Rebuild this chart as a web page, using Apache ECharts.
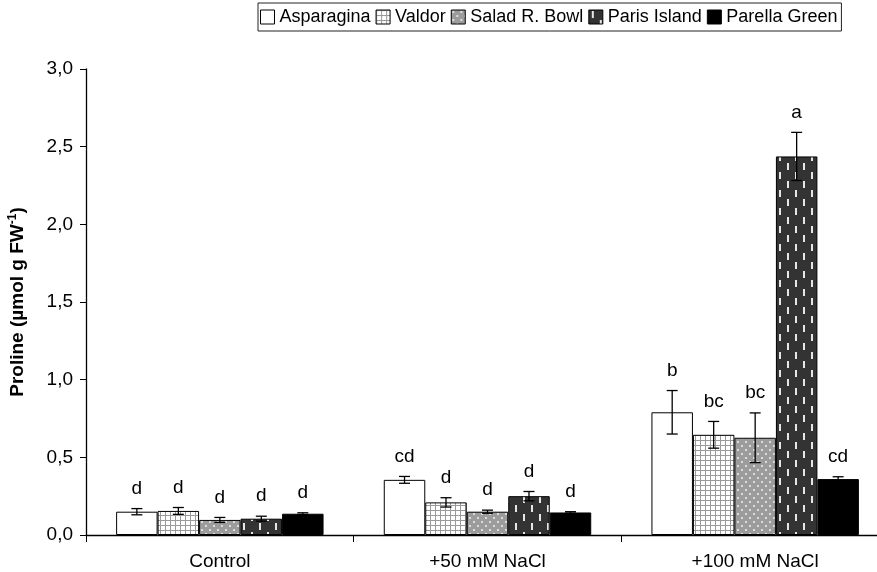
<!DOCTYPE html>
<html>
<head>
<meta charset="utf-8">
<script src="https://cdn.jsdelivr.net/npm/echarts@6/dist/echarts.min.js"></script>
<style>
  html, body { margin: 0; padding: 0; background: #fff; }
  #chart { width: 877px; height: 572px; }
</style>
</head>
<body>
<div id="chart"></div>
<script>
// Proline content of five lettuce cultivars under salt treatments
const categories = ['Control', '+50 mM NaCl', '+100 mM NaCl'];
const cultivars = ['Asparagina', 'Valdor', 'Salad R. Bowl', 'Paris Island', 'Parella Green'];
const yTicks = [0, 0.5, 1.0, 1.5, 2.0, 2.5, 3.0];

const asparagina = [0.150, 0.355, 0.790];
const valdor = [0.155, 0.210, 0.645];
const saladRBowl = [0.097, 0.150, 0.626];
const parisIsland = [0.105, 0.250, 2.437];
const parellaGreen = [0.137, 0.145, 0.360];

const asparaginaErr = [0.020, 0.022, 0.140];
const valdorErr = [0.022, 0.030, 0.086];
const saladRBowlErr = [0.016, 0.010, 0.160];
const parisIslandErr = [0.016, 0.030, 0.155];
const parellaGreenErr = [0.006, 0.005, 0.015];

const asparaginaLetters = ['d', 'cd', 'b'];
const valdorLetters = ['d', 'd', 'bc'];
const saladRBowlLetters = ['d', 'd', 'bc'];
const parisIslandLetters = ['d', 'd', 'a'];
const parellaGreenLetters = ['d', 'd', 'cd'];

const values = [asparagina, valdor, saladRBowl, parisIsland, parellaGreen];
const errors = [asparaginaErr, valdorErr, saladRBowlErr, parisIslandErr, parellaGreenErr];
const letters = [asparaginaLetters, valdorLetters, saladRBowlLetters, parisIslandLetters, parellaGreenLetters];

const FONT = '"Liberation Sans", Arial, sans-serif';
const CAT_GAP = 0.225;

// Fill patterns for the bars
function tile(w, h, draw) {
  const c = document.createElement('canvas');
  c.width = w; c.height = h;
  draw(c.getContext('2d'));
  return c;
}
const patterns = [
  '#ffffff',
  { image: tile(5, 5, g => {
      g.fillStyle = '#9a9a9a'; g.fillRect(0, 0, 5, 5);
      g.fillStyle = '#ffffff'; g.fillRect(1, 1, 4, 4);
    }), repeat: 'repeat' },
  { image: tile(8, 8, g => {
      g.fillStyle = '#9c9c9c'; g.fillRect(0, 0, 8, 8);
      g.fillStyle = '#dcdcdc';
      g.fillRect(1, 1, 2, 2); g.fillRect(5, 5, 2, 2);
    }), repeat: 'repeat' },
  { image: tile(16, 18, g => {
      g.fillStyle = '#333333'; g.fillRect(0, 0, 16, 18);
      g.fillStyle = '#e6e6e6';
      g.fillRect(3, 1, 2, 7); g.fillRect(11, 10, 2, 7);
    }), repeat: 'repeat' },
  '#000000'
];

const series = [];
cultivars.forEach((name, i) => {
  series.push({
    name: name,
    type: 'bar',
    data: values[i],
    barGap: '0%',
    barCategoryGap: (CAT_GAP * 100) + '%',
    itemStyle: { color: patterns[i], borderColor: '#000', borderWidth: 1 },
    emphasis: { disabled: true },
    z: 2
  });
});

// Error bars and significance letters, positioned through the axis scales
cultivars.forEach((name, i) => {
  series.push({
    name: 'err-' + name,
    type: 'custom',
    z: 5,
    silent: true,
    data: categories.map((c, j) => [j, values[i][j], errors[i][j]]),
    renderItem: function (params, api) {
      const j = api.value(0), v = api.value(1), e = api.value(2);
      const center = api.coord([j, v]);
      const catW = api.size([1, 0])[0];
      const bw = catW * (1 - CAT_GAP) / 5;
      const x = center[0] + (i - 2) * bw;
      const yTop = api.coord([j, v + e])[1];
      const yBot = api.coord([j, v - e])[1];
      const cap = 5.5;
      const ls = { stroke: '#000', lineWidth: 1.3 };
      return {
        type: 'group',
        children: [
          { type: 'line', shape: { x1: x, y1: yTop, x2: x, y2: yBot }, style: ls },
          { type: 'line', shape: { x1: x - cap, y1: yTop, x2: x + cap, y2: yTop }, style: ls },
          { type: 'line', shape: { x1: x - cap, y1: yBot, x2: x + cap, y2: yBot }, style: ls },
          { type: 'text', style: {
              text: letters[i][params.dataIndex], x: x, y: yTop - 20,
              align: 'center', verticalAlign: 'middle',
              font: '19px ' + FONT, fill: '#000' } }
        ]
      };
    }
  });
});

const chart = echarts.init(document.getElementById('chart'), null, { renderer: 'canvas' });
chart.setOption({
  animation: false,
  backgroundColor: '#fff',
  grid: { left: 86, top: 69, width: 803, bottom: 37, containLabel: false, outerBoundsMode: 'none' },
  legend: {
    data: cultivars,
    left: 258, top: 3,
    icon: 'rect',
    itemWidth: 14, itemHeight: 14, itemGap: 5,
    padding: [5, 4, 5, 2],
    borderColor: '#222', borderWidth: 1,
    textStyle: { fontFamily: FONT, fontSize: 18, color: '#000' },
    itemStyle: { borderColor: '#000', borderWidth: 1 },
    selectedMode: false
  },
  xAxis: {
    type: 'category',
    data: categories,
    axisLine: { lineStyle: { color: '#000', width: 1.3 } },
    axisTick: { show: true, length: 7, lineStyle: { color: '#000' } },
    axisLabel: { fontFamily: FONT, fontSize: 19, color: '#000', margin: 17 }
  },
  yAxis: {
    type: 'value',
    min: yTicks[0], max: yTicks[yTicks.length - 1], interval: 0.5,
    splitLine: { show: false },
    axisLine: { show: true, lineStyle: { color: '#000', width: 1.3 } },
    axisTick: { show: true, length: 6, lineStyle: { color: '#000' } },
    axisLabel: {
      fontFamily: FONT, fontSize: 19, color: '#000', margin: 13,
      formatter: v => v.toFixed(1).replace('.', ',')
    },
    name: '{t|Proline (µmol g FW}{s|-1}{t|)}',
    nameLocation: 'middle',
    nameGap: 57,
    nameRotate: 90,
    nameTextStyle: {
      rich: {
        t: { fontFamily: FONT, fontSize: 19, fontWeight: 'bold', color: '#000' },
        s: { fontFamily: FONT, fontSize: 12, fontWeight: 'bold', color: '#000', padding: [0, 0, 10, 0] }
      }
    }
  },
  series: series
});
</script>
</body>
</html>
